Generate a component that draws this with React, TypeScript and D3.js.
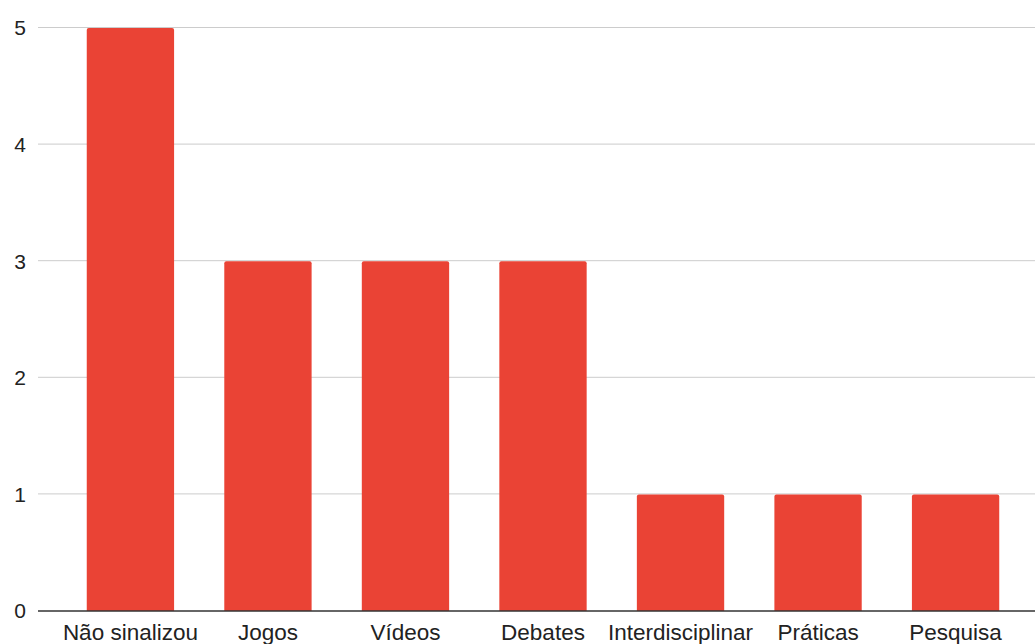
import React from "react";
import * as d3 from "d3";

const categories = ["Não sinalizou", "Jogos", "Vídeos", "Debates", "Interdisciplinar", "Práticas", "Pesquisa"];
const values = [5, 3, 3, 3, 1, 1, 1];
const yTicks = [0, 1, 2, 3, 4, 5];

export default function App() {
  const width = 1035;
  const height = 644;
  const left = 38;
  const top = 28;
  const bottom = 611;
  const x = d3.scaleBand<string>().domain(categories).range([62, 1024]).paddingInner(0.365).paddingOuter(0.18);
  const y = d3.scaleLinear().domain([0, 5]).range([bottom, top]);
  const r = 2;
  return (
    <svg width={width} height={height} style={{ position: "absolute", left: 0, top: 0, fontFamily: "'Liberation Sans', Arial, sans-serif" }}>
      {yTicks.map((t) => (
        <g key={t}>
          {t > 0 && <line x1={left} x2={width} y1={y(t) - 0.5} y2={y(t) - 0.5} stroke="#cccccc" strokeWidth={1} />}
          <text x={26} y={y(t)} dy="0.35em" textAnchor="end" fontSize={21} fill="#222">{t}</text>
        </g>
      ))}
      {categories.map((c, i) => {
        const x0 = x(c)!;
        const w = x.bandwidth();
        const y0 = y(values[i]);
        const d = `M${x0},${bottom} L${x0},${y0 + r} Q${x0},${y0} ${x0 + r},${y0} L${x0 + w - r},${y0} Q${x0 + w},${y0} ${x0 + w},${y0 + r} L${x0 + w},${bottom} Z`;
        return <path key={c} d={d} fill="#ea4335" />;
      })}
      <line x1={left} x2={width} y1={bottom} y2={bottom} stroke="#333" strokeWidth={1.5} />
      {categories.map((c) => (
        <text key={c} x={x(c)! + x.bandwidth() / 2} y={640} textAnchor="middle" fontSize={22.5} fill="#222">{c}</text>
      ))}
    </svg>
  );
}
